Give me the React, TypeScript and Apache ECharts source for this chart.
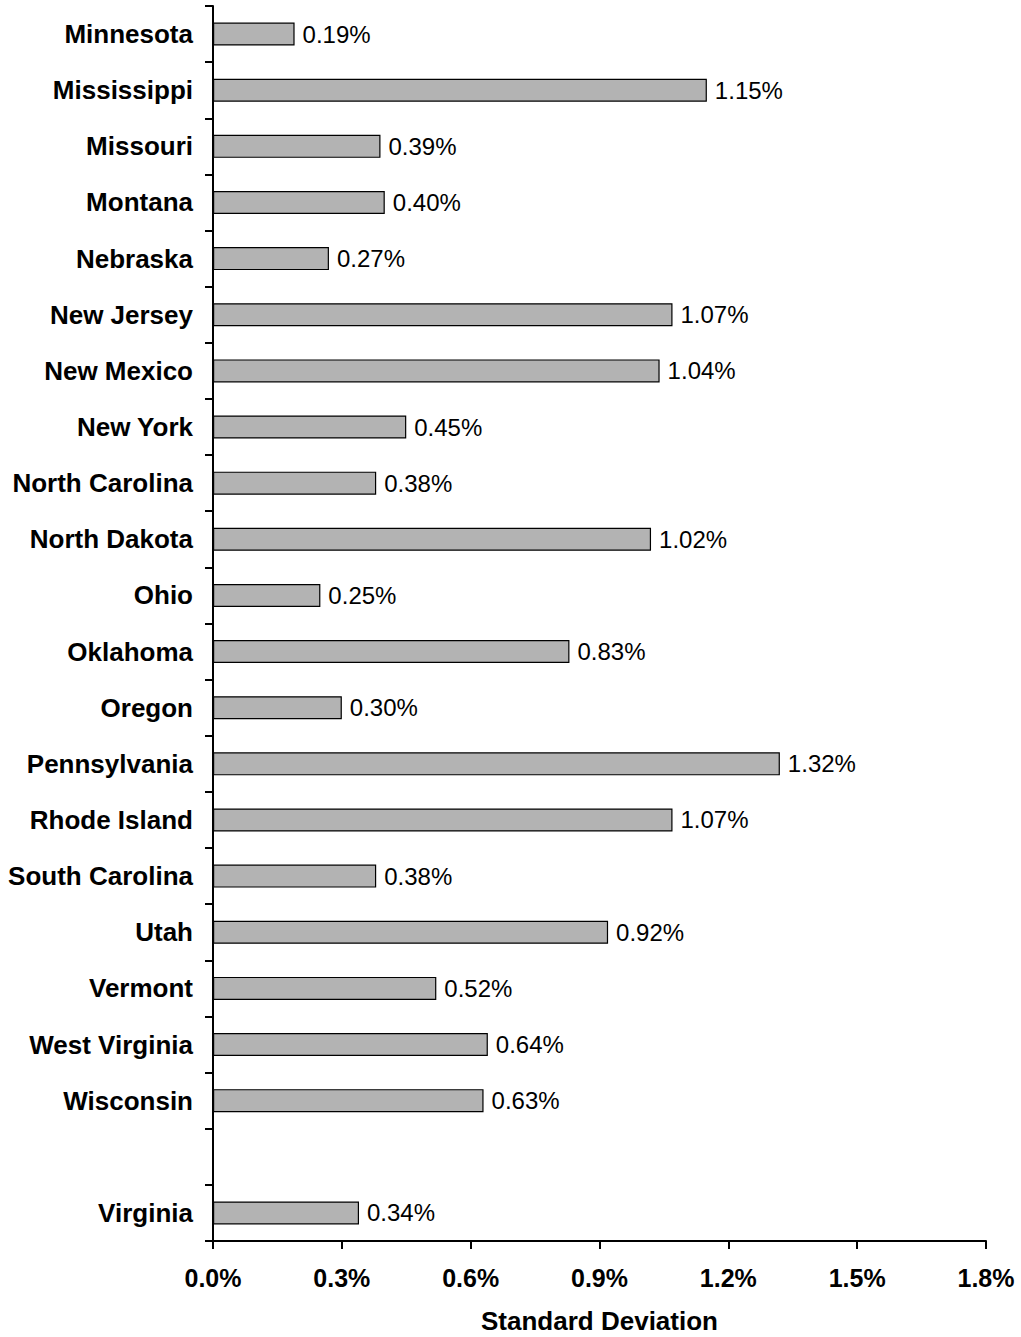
import React, { useEffect, useRef } from "react";
import * as echarts from "echarts";

const categories: string[] = [
  "Minnesota", "Mississippi", "Missouri", "Montana", "Nebraska", "New Jersey",
  "New Mexico", "New York", "North Carolina", "North Dakota", "Ohio", "Oklahoma",
  "Oregon", "Pennsylvania", "Rhode Island", "South Carolina", "Utah", "Vermont",
  "West Virginia", "Wisconsin", "", "Virginia",
];
const values: (number | null)[] = [
  0.19, 1.15, 0.39, 0.40, 0.27, 1.07, 1.04, 0.45, 0.38, 1.02, 0.25, 0.83,
  0.30, 1.32, 1.07, 0.38, 0.92, 0.52, 0.64, 0.63, null, 0.34,
];
const xTicks = { min: 0, max: 1.8, interval: 0.3 };
const xAxisTitle = "Standard Deviation";

const FONT = "'Liberation Sans', Arial, sans-serif";

export default function App() {
  const ref = useRef<HTMLDivElement>(null);
  useEffect(() => {
    if (!ref.current) return;
    const chart = echarts.init(ref.current, null, { renderer: "svg" });
    chart.setOption({
      animation: false,
      backgroundColor: "#ffffff",
      grid: {
        left: 213,
        right: 35,
        top: 6,
        bottom: 96,
        containLabel: false,
        outerBoundsMode: "none",
      },
      xAxis: {
        type: "value",
        min: xTicks.min,
        max: xTicks.max,
        interval: xTicks.interval,
        name: xAxisTitle,
        nameLocation: "middle",
        nameGap: 66,
        nameTextStyle: {
          fontFamily: FONT,
          fontWeight: "bold",
          fontSize: 26,
          lineHeight: 28,
          color: "#000",
        },
        axisLine: { show: true, lineStyle: { color: "#000", width: 2 } },
        axisTick: { show: true, length: 8, lineStyle: { color: "#000", width: 2 } },
        axisLabel: {
          fontFamily: FONT,
          fontWeight: "bold",
          fontSize: 25,
          color: "#000",
          margin: 24,
          formatter: (v: number) => v.toFixed(1) + "%",
        },
        splitLine: { show: false },
      },
      yAxis: {
        type: "category",
        data: categories,
        inverse: true,
        axisLine: { show: true, lineStyle: { color: "#000", width: 2 } },
        axisTick: { show: true, length: 8, lineStyle: { color: "#000", width: 2 } },
        axisLabel: {
          fontFamily: FONT,
          fontWeight: "bold",
          fontSize: 26,
          color: "#000",
          margin: 20,
          interval: 0,
        },
      },
      series: [
        {
          type: "bar",
          data: values,
          barWidth: 23,
          itemStyle: { color: "#b3b3b3", borderColor: "#000", borderWidth: 1.2 },
          label: {
            show: true,
            position: "right",
            distance: 8,
            fontFamily: FONT,
            fontSize: 24,
            color: "#000",
            formatter: (p: any) => (p.value == null ? "" : Number(p.value).toFixed(2) + "%"),
          },
        },
      ],
    });
    return () => chart.dispose();
  }, []);
  return (
    <div
      ref={ref}
      style={{ position: "absolute", left: 0, top: 0, width: 1021, height: 1337 }}
    />
  );
}
